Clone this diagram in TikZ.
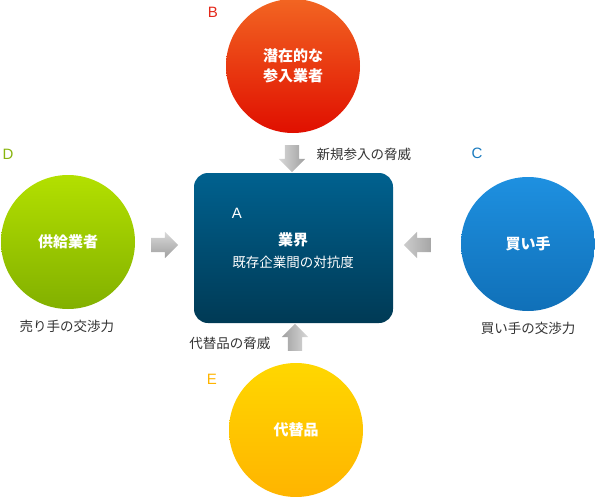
\documentclass[tikz,border=0pt]{standalone}
\usepackage{fontspec}
\setmainfont{Noto Sans CJK JP}
\newfontfamily\latinfont{Liberation Sans}
\usetikzlibrary{shapes.arrows, positioning}

\definecolor{redTop}{HTML}{F26522}
\definecolor{redBot}{HTML}{E00F00}
\definecolor{greenTop}{HTML}{B3E000}
\definecolor{greenBot}{HTML}{82B000}
\definecolor{blueTop}{HTML}{1E90E0}
\definecolor{blueBot}{HTML}{1070B8}
\definecolor{yellowTop}{HTML}{FFD700}
\definecolor{yellowBot}{HTML}{FFB400}
\definecolor{boxTop}{HTML}{00618F}
\definecolor{boxBot}{HTML}{003A55}
\definecolor{textGray}{HTML}{333333}

\begin{document}
\begin{tikzpicture}[
        x=1pt, y=-1pt,
        force/.style={circle, minimum size=134pt, inner sep=0pt, text=white, font=\bfseries\fontsize{15}{20}\selectfont, align=center},
        industry/.style={rectangle, rounded corners=14pt, minimum width=199pt, minimum height=150pt, top color=boxTop, bottom color=boxBot, draw=none},
        blockarrow/.style={single arrow, minimum width=26pt, single arrow head extend=6pt, minimum height=27pt, inner sep=7pt, draw=none},
        caption/.style={text=textGray, font=\fontsize{13.5}{16}\selectfont},
        letter/.style={font=\latinfont\fontsize{15}{18}\selectfont}
    ]
        \useasboundingbox (0,0) rectangle (595,496);

        % Forces
        \node (entrant) [force, top color=redTop, bottom color=redBot] at (293,66) {潜在的な\\参入業者};
        \node (supplier) [force, top color=greenTop, bottom color=greenBot] at (68,242) {供給業者};
        \node (buyer) [force, top color=blueTop, bottom color=blueBot] at (528,244) {買い手};
        \node (substitute) [force, top color=yellowTop, bottom color=yellowBot] at (296,430) {代替品};

        % Industry box
        \node (industry) [industry] at (293.5,248) {};
        \node (rivalry) [text=white, font=\fontsize{13.5}{22}\selectfont, align=center] at (293,251) {{\bfseries\fontsize{15}{22}\selectfont 業界}\\既存企業間の対抗度};
        \node (letterA) [letter, text=white] at (237,213) {A};

        % Letters
        \node (letterB) [letter, text=redBot!90!white] at (213,12) {B};
        \node (letterC) [letter, text=blueTop!85!black] at (477,153) {C};
        \node (letterD) [letter, text=greenBot!95!white] at (8,154) {D};
        \node (letterE) [letter, text=yellowBot] at (212,379) {E};

        % Block arrows
        \node (arrowB) [blockarrow, shape border rotate=270, left color=gray!30, right color=gray!75] at (292,155) {};
        \node (arrowD) [blockarrow, shape border rotate=0, top color=gray!30, bottom color=gray!75] at (161,245) {};
        \node (arrowC) [blockarrow, shape border rotate=180, left color=gray!40, right color=gray!70] at (421,245) {};
        \node (arrowE) [blockarrow, shape border rotate=90, left color=gray!75, right color=gray!30] at (295,341) {};

        % Captions
        \node (newEntry) [caption, anchor=west] at (313,154) {新規参入の脅威};
        \node (substThreat) [caption, anchor=east] at (274,343) {代替品の脅威};
        \node (sellerPower) [caption] at (67,326) {売り手の交渉力};
        \node (buyerPower) [caption] at (528,328) {買い手の交渉力};
    \end{tikzpicture}
\end{document}
